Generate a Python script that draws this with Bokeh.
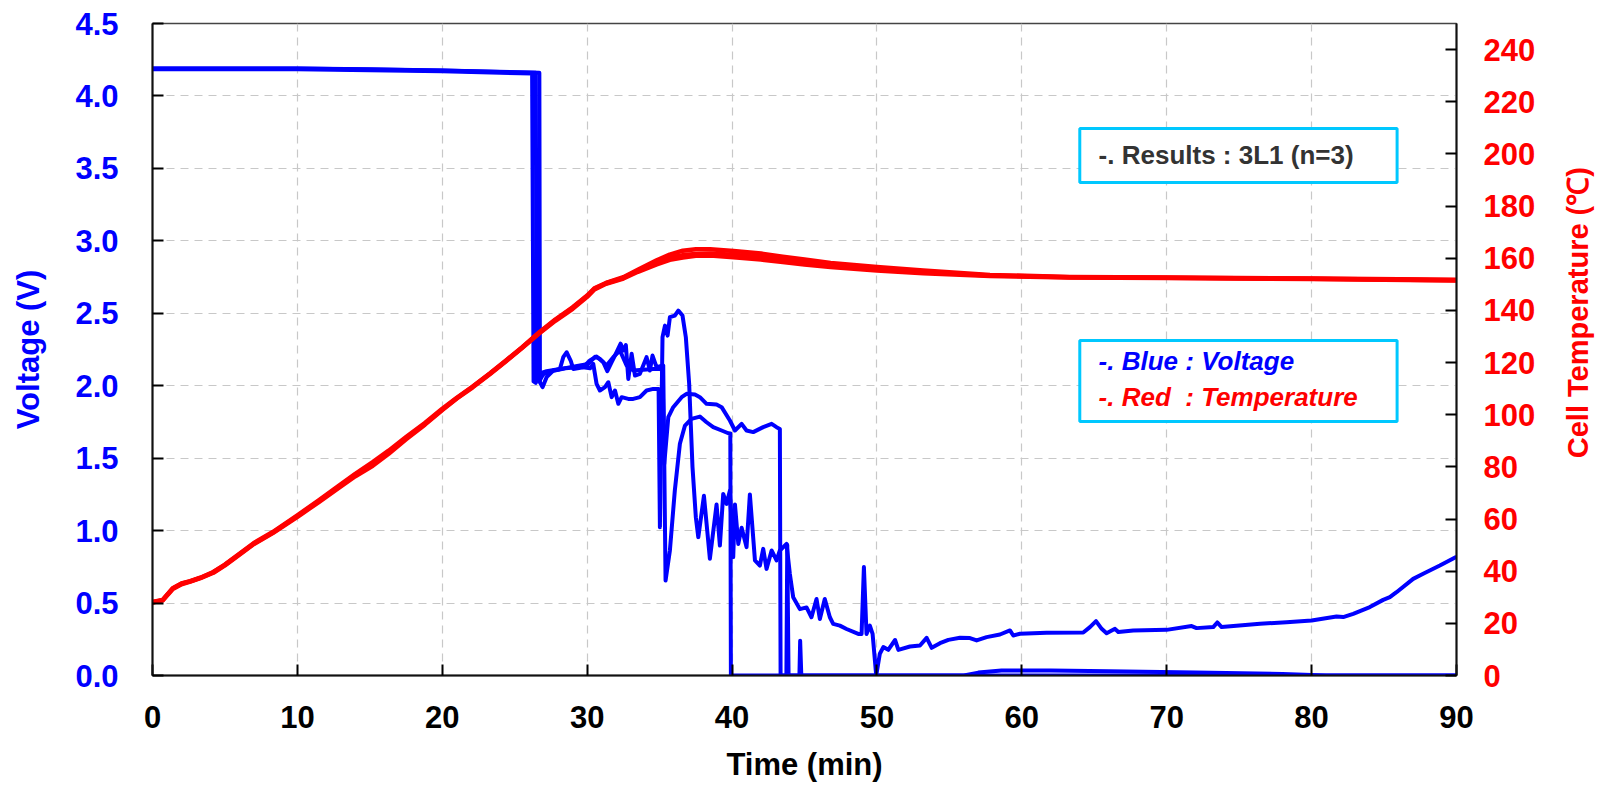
import math
from bokeh.plotting import figure
from bokeh.layouts import row
from bokeh.models import Range1d, LinearAxis, FixedTicker, BoxAnnotation, Label, NumeralTickFormatter
from bokeh.embed import file_html
from bokeh.resources import INLINE

# ---------------- data ----------------
time_ticks = [0, 10, 20, 30, 40, 50, 60, 70, 80, 90]
volt_ticks = [0.0, 0.5, 1.0, 1.5, 2.0, 2.5, 3.0, 3.5, 4.0, 4.5]
temp_ticks = [0, 20, 40, 60, 80, 100, 120, 140, 160, 180, 200, 220, 240]

# Voltage, cell A (survives longest)
volt_a = [(0, 4.19), (5, 4.19), (10, 4.19), (15, 4.185), (20, 4.175), (24, 4.165), (26.45, 4.16),
          (26.52, 2.05), (26.7, 2.03), (26.85, 2.06), (27.0, 2.08), (27.5, 2.1), (28.0, 2.11),
          (28.5, 2.12), (29.5, 2.13), (30.2, 2.12), (30.42, 2.151), (30.65, 2.013), (30.88, 1.967),
          (31.23, 1.99), (31.46, 2.024), (31.69, 1.921), (31.92, 1.967), (32.15, 1.875), (32.38, 1.921),
          (32.84, 1.909), (33.18, 1.909), (33.64, 1.921), (34.1, 1.967), (34.56, 1.978), (34.93, 1.978),
          (35.02, 1.024), (35.2, 2.335), (35.37, 2.415), (35.55, 2.346), (35.71, 2.473), (36.05, 2.484),
          (36.29, 2.519), (36.58, 2.484), (36.81, 2.335), (37.04, 2.013), (37.27, 1.438), (37.5, 1.093),
          (37.67, 0.955), (38.06, 1.24), (38.47, 0.805), (38.93, 1.18), (39.16, 0.897), (39.39, 1.253),
          (39.62, 1.184), (39.85, 1.276), (40.08, 0.817), (40.2, 1.18), (40.43, 0.908), (40.66, 1.02),
          (41.0, 0.886), (41.23, 1.25), (41.58, 0.794), (41.92, 0.759), (42.15, 0.874), (42.38, 0.736),
          (42.73, 0.863), (43.07, 0.794), (43.3, 0.863), (43.76, 0.908), (43.99, 0.701), (44.22, 0.54),
          (44.68, 0.458), (45.14, 0.47), (45.48, 0.402), (45.83, 0.528), (46.06, 0.39), (46.4, 0.528),
          (46.75, 0.402), (46.98, 0.356), (47.44, 0.344), (47.9, 0.321), (48.71, 0.287), (48.94, 0.287),
          (49.1, 0.748), (49.28, 0.287), (49.51, 0.344), (49.7, 0.287), (49.95, 0.0), (50.2, 0.15),
          (50.44, 0.196), (50.78, 0.177), (51.25, 0.245), (51.48, 0.177), (52.28, 0.2), (52.97, 0.207),
          (53.43, 0.26), (53.78, 0.191), (54.35, 0.223), (54.93, 0.246), (55.73, 0.26), (56.42, 0.258),
          (56.88, 0.242), (57.57, 0.265), (58.49, 0.283), (59.18, 0.311), (59.41, 0.276), (59.87, 0.288),
          (61.71, 0.295), (64.24, 0.297), (64.7, 0.334), (65.12, 0.375), (65.51, 0.322), (65.85, 0.292),
          (66.43, 0.322), (66.66, 0.3), (67.69, 0.311), (69.99, 0.315), (71.72, 0.341), (72.06, 0.327),
          (73.21, 0.334), (73.49, 0.366), (73.79, 0.334), (76.44, 0.357), (78.27, 0.368), (80.0, 0.38),
          (81.72, 0.407), (82.18, 0.403), (82.87, 0.426), (84.02, 0.472), (84.94, 0.522), (85.4, 0.541),
          (85.86, 0.575), (87.01, 0.667), (87.7, 0.702), (88.85, 0.759), (90.0, 0.82)]

# Voltage, cell B (fails near 40 min)
volt_b = [(0, 4.185), (10, 4.185), (20, 4.17), (26.2, 4.155), (26.3, 2.03), (26.45, 2.02),
          (26.63, 2.082), (27.2, 2.1), (28.12, 2.116), (28.35, 2.197), (28.58, 2.231), (28.86, 2.174),
          (29.04, 2.116), (29.73, 2.128), (30.19, 2.174), (30.65, 2.202), (31.11, 2.162), (31.39, 2.1),
          (31.69, 2.162), (32.03, 2.231), (32.31, 2.29), (32.49, 2.243), (32.67, 2.28), (32.84, 2.047),
          (33.07, 2.22), (33.3, 2.07), (33.64, 2.082), (34.1, 2.197), (34.33, 2.105), (34.51, 2.208),
          (34.79, 2.128), (35.25, 2.14), (35.41, 0.655), (35.71, 0.863), (36.05, 1.277), (36.4, 1.6),
          (36.75, 1.725), (37.2, 1.771), (37.78, 1.787), (38.24, 1.748), (38.7, 1.714), (39.28, 1.691),
          (39.74, 1.672), (39.88, 1.67), (39.92, 0.0), (50, 0.0), (56, 0.0), (57, 0.02), (58.6, 0.035),
          (62, 0.035), (66, 0.03), (72, 0.02), (78, 0.01), (81, 0.0), (90, 0.0)]

# Voltage, cell C (fails near 44 min)
volt_c = [(0, 4.19), (10, 4.19), (20, 4.175), (26.7, 4.16), (26.74, 2.024), (26.92, 1.99),
          (27.2, 2.059), (27.66, 2.105), (28.58, 2.123), (29.5, 2.14), (30.08, 2.15), (30.54, 2.2),
          (30.88, 2.185), (31.34, 2.14), (31.8, 2.197), (32.26, 2.243), (32.72, 2.14), (33.18, 2.105),
          (33.87, 2.11), (34.56, 2.116), (35.02, 2.116), (35.2, 2.105), (35.32, 1.46), (35.6, 1.783),
          (35.94, 1.852), (36.52, 1.921), (36.86, 1.944), (37.44, 1.939), (37.78, 1.921), (38.24, 1.875),
          (38.93, 1.87), (39.28, 1.852), (39.85, 1.76), (40.2, 1.691), (40.66, 1.737), (41.0, 1.691),
          (41.46, 1.68), (42.15, 1.714), (42.73, 1.737), (43.07, 1.714), (43.3, 1.702), (43.35, 0.0),
          (43.75, 0.0), (43.81, 0.9), (43.9, 0.0), (44.65, 0.0), (44.7, 0.24), (44.78, 0.0), (90, 0.0)]

# Cell temperature (°C), three cells
temp_time = [0, 0.7, 1.4, 2.0, 2.6, 3.3, 4.2, 5.0, 6.0, 7.0, 8.3, 10, 11.5, 12.9, 14, 15.2, 16.3,
             17.5, 18.8, 20, 21, 22.1, 23.3, 24.4, 25.5, 26.7, 27.8, 29.0, 30.0, 30.5, 31.3, 32.5,
             33.5, 34.8, 35.7, 36.6, 37.5, 38.5, 40.1, 42, 43.5, 45, 46.8, 50, 53.2, 57.8, 63.3,
             70, 80, 90]
temp_1 = [28.2, 29.0, 33.5, 35.3, 36.2, 37.5, 39.7, 42.5, 46.7, 50.8, 55.0, 61.4, 67.3, 72.9, 77.3,
          81.8, 86.2, 91.4, 96.8, 102.3, 106.5, 110.8, 115.9, 120.8, 125.8, 131.6, 136.5, 141.2, 145.7,
          148.5, 150.5, 152.7, 155.6, 159.2, 161.4, 162.9, 163.4, 163.4, 162.8, 161.8, 160.6, 159.5,
          158.2, 156.6, 155.3, 153.6, 152.8, 152.6, 152.2, 151.7]
temp_2 = [28.0, 28.8, 33.2, 35.0, 36.0, 37.3, 39.4, 42.2, 46.3, 50.4, 54.6, 60.8, 66.6, 72.1, 76.4,
          80.4, 85.0, 90.6, 96.2, 101.8, 106.2, 110.5, 115.6, 120.5, 125.6, 131.2, 136.0, 140.6, 145.2,
          148.0, 150.2, 152.2, 154.8, 157.6, 159.4, 160.3, 160.9, 161.0, 160.4, 159.5, 158.5, 157.6,
          156.6, 155.3, 154.2, 153.2, 152.6, 152.4, 152.0, 151.5]
temp_3 = [28.1, 28.9, 33.4, 35.2, 36.1, 37.4, 39.6, 42.4, 46.5, 50.6, 54.8, 61.1, 67.0, 72.5, 77.0,
          81.2, 85.8, 91.0, 96.5, 102.0, 106.3, 110.7, 115.8, 120.7, 125.7, 131.4, 136.3, 141.0, 145.5,
          148.3, 150.4, 152.5, 155.2, 158.3, 160.2, 161.2, 161.6, 161.8, 161.3, 160.4, 159.4, 158.5,
          157.4, 156.0, 154.7, 153.4, 152.7, 152.5, 152.1, 151.6]

title_text = "-. Results : 3L1 (n=3)"
legend_blue = "-. Blue : Voltage"
legend_red = "-. Red\u00a0 : Temperature"
right_title = "Cell Temperature (\u2103)"

# ---------------- figure ----------------
FONT = "Liberation Sans"
BLUE = "#0000FF"
RED = "#FF0000"
CYAN = "#00C8FF"
STRIP_W = 40          # narrow strip on the right that carries the rotated right-axis title

p = figure(width=1599 - STRIP_W, height=796, x_range=Range1d(0, 90), y_range=Range1d(0, 4.5),
           output_backend="svg", toolbar_location=None,
           min_border_left=152, min_border_right=143 - STRIP_W, min_border_top=23,
           min_border_bottom=121)
p.extra_y_ranges = {"temp": Range1d(0, 250)}
p.background_fill_color = "white"
p.border_fill_color = "white"
p.outline_line_color = "#444444"
p.outline_line_width = 1.5

# bottom axis
xa = p.xaxis[0]
xa.ticker = FixedTicker(ticks=time_ticks)
xa.axis_label = "Time (min)"
xa.axis_label_text_font = FONT
xa.axis_label_text_font_style = "bold"
xa.axis_label_text_font_size = "31px"
xa.axis_label_text_color = "black"
xa.axis_label_standoff = 16
xa.major_label_text_font = FONT
xa.major_label_text_font_style = "bold"
xa.major_label_text_font_size = "31px"
xa.major_label_text_color = "black"
xa.major_label_standoff = 30
xa.major_tick_in = 11
xa.major_tick_out = 0
xa.minor_tick_line_color = None
xa.axis_line_width = 2
xa.axis_line_color = "#111111"
xa.major_tick_line_width = 2

# left axis
ya = p.yaxis[0]
ya.ticker = FixedTicker(ticks=volt_ticks)
ya.formatter = NumeralTickFormatter(format="0.0")
ya.axis_label = "Voltage (V)"
ya.axis_label_text_font = FONT
ya.axis_label_text_font_style = "bold"
ya.axis_label_text_font_size = "31px"
ya.axis_label_text_color = BLUE
ya.axis_label_standoff = 26
ya.major_label_text_font = FONT
ya.major_label_text_font_style = "bold"
ya.major_label_text_font_size = "31px"
ya.major_label_text_color = BLUE
ya.major_label_standoff = 34
ya.major_tick_in = 11
ya.major_tick_out = 0
ya.minor_tick_line_color = None
ya.axis_line_width = 2
ya.axis_line_color = "#111111"
ya.major_tick_line_width = 2

# right axis (ticks and numbers)
ra = LinearAxis(y_range_name="temp", ticker=FixedTicker(ticks=temp_ticks))
ra.major_label_text_font = FONT
ra.major_label_text_font_style = "bold"
ra.major_label_text_font_size = "31px"
ra.major_label_text_color = RED
ra.major_label_standoff = 27
ra.major_tick_in = 11
ra.major_tick_out = 0
ra.minor_tick_line_color = None
ra.axis_line_width = 2
ra.axis_line_color = "#111111"
ra.major_tick_line_width = 2
p.add_layout(ra, "right")

# grids
for g in (p.xgrid[0], p.ygrid[0]):
    g.grid_line_color = "#c8c8c8"
    g.grid_line_dash = "8 6"
    g.grid_line_width = 1.2
p.xgrid[0].ticker = FixedTicker(ticks=time_ticks)
p.ygrid[0].ticker = FixedTicker(ticks=volt_ticks)

# voltage lines
for series in (volt_a, volt_b, volt_c):
    p.line([s[0] for s in series], [s[1] for s in series], line_color=BLUE, line_width=4,
           line_join="round")

# temperature lines
for temps in (temp_1, temp_2, temp_3):
    p.line(temp_time, temps, y_range_name="temp", line_color=RED, line_width=4.5, line_join="round")

# annotation boxes (placement in data units of the plot)
BOX_X0, BOX_X1 = 64.0, 85.9
p.add_layout(BoxAnnotation(left=BOX_X0, right=BOX_X1, bottom=3.402, top=3.775,
                           fill_color="white", fill_alpha=1.0, line_color=CYAN, line_alpha=1.0,
                           line_width=3))
p.add_layout(BoxAnnotation(left=BOX_X0, right=BOX_X1, bottom=1.753, top=2.312,
                           fill_color="white", fill_alpha=1.0, line_color=CYAN, line_alpha=1.0,
                           line_width=3))

TEXT_X = 65.3
p.add_layout(Label(x=TEXT_X, y=3.595, text=title_text, text_font=FONT, text_font_style="bold",
                   text_font_size="26px", text_color="#333333", text_baseline="middle"))
p.add_layout(Label(x=TEXT_X, y=2.174, text=legend_blue, text_font=FONT, text_font_style="bold italic",
                   text_font_size="26px", text_color=BLUE, text_baseline="middle"))
p.add_layout(Label(x=TEXT_X, y=1.925, text=legend_red, text_font=FONT, text_font_style="bold italic",
                   text_font_size="26px", text_color=RED, text_baseline="middle"))

# narrow strip carrying the right-axis title, reading bottom-to-top
strip = figure(width=STRIP_W, height=796, x_range=Range1d(0, STRIP_W), y_range=Range1d(0, 796),
               x_axis_type=None, y_axis_type=None, output_backend="svg", toolbar_location=None,
               min_border=0)
strip.outline_line_color = None
strip.grid.visible = False
strip.background_fill_color = "white"
strip.border_fill_color = "white"
strip.add_layout(Label(x=18, y=443, text=right_title, angle=math.pi / 2, text_font=FONT,
                       text_font_style="bold", text_font_size="29px", text_color=RED,
                       text_align="center", text_baseline="middle"))

layout = row(p, strip, spacing=0)
open("out.html", "w").write(file_html(layout, INLINE))
